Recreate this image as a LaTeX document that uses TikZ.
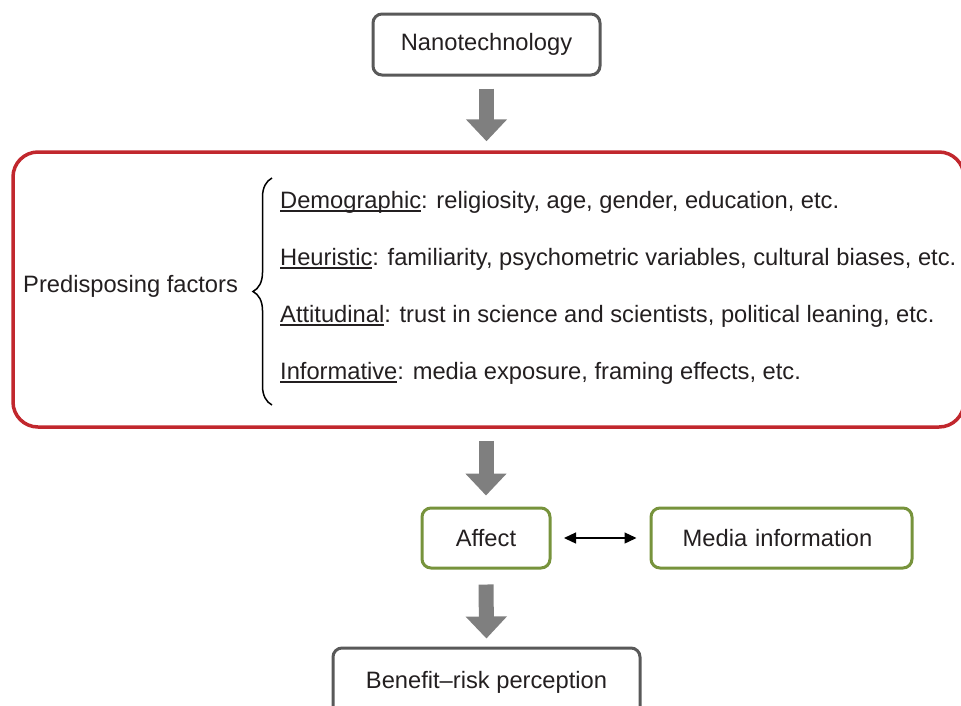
\documentclass[tikz,border=0pt]{standalone}
\usepackage{fontspec}
\setmainfont{Liberation Sans}
\usetikzlibrary{arrows.meta,decorations.pathreplacing}
\definecolor{boxgray}{HTML}{595959}
\definecolor{boxred}{HTML}{C1272D}
\definecolor{boxgreen}{HTML}{77933C}
\definecolor{arrowgray}{HTML}{7F7F7F}
\definecolor{textdark}{HTML}{231F20}
\newcommand{\ulword}[1]{\setbox0=\hbox{#1}\rlap{\rule[-3.5pt]{\wd0}{1.3pt}}\box0}
\tikzset{
	% Rounded boxes: gray for input and outcome, red for the factors, green for the middle step
	gray box/.style={rectangle,rounded corners=9pt,draw=boxgray,line width=3pt,inner sep=0pt},
	red box/.style={rectangle,rounded corners=25pt,draw=boxred,line width=3.5pt,inner sep=0pt},
	green box/.style={rectangle,rounded corners=9pt,draw=boxgreen,line width=3pt,inner sep=0pt},
	plain text/.style={anchor=base west,inner sep=0pt},
	% Two arrow styles: wide gray block arrow and thin two-way arrow
	fat arrow/.style={color=arrowgray,line width=15pt,-{Triangle[width=40pt,length=22pt]}},
	thin arrow/.style={color=black,line width=1.3pt,{Triangle[width=11pt,length=12pt]}-{Triangle[width=11pt,length=12pt]}}
}

\begin{document}
\begin{tikzpicture}[x=1pt,y=-1pt,font=\fontsize{23.7}{28}\selectfont,text=textdark]

\useasboundingbox (0,0) rectangle (961,705);
\clip (0,0) rectangle (961,705);

% set top node
\node[gray box, minimum width=227pt, minimum height=61pt] (nano) at (486.5, 44.5) {Nanotechnology};

% set factors box with its list
\node[red box, minimum width=951pt, minimum height=275pt] (factors) at (488.5, 289.5) {};
\node[plain text] (pf) at (23, 292) {Predisposing factors};
\coordinate (bt) at (272, 178);
\coordinate (bb) at (272, 405);
\draw[line width=1.5pt, decorate, decoration={brace, amplitude=19pt}] (bb) -- (bt);
\node[plain text] (dem) at (280, 208) {\ulword{Demographic}: religiosity, age, gender, education, etc.};
\node[plain text] (heu) at (280, 265) {\ulword{Heuristic}: familiarity, psychometric variables, cultural biases, etc.};
\node[plain text] (att) at (280, 322) {\ulword{Attitudinal}: trust in science and scientists, political leaning, etc.};
\node[plain text] (inf) at (280, 379) {\ulword{Informative}: media exposure, framing effects, etc.};

% set middle and bottom nodes
\node[green box, minimum width=128pt, minimum height=60pt] (affect) at (486, 538) {Affect};
\node[green box, minimum width=261pt, minimum height=60pt, text width=253pt, align=center] (media) at (781.5, 538) {Media information\hspace*{8pt}};
\node[gray box, minimum width=307pt, minimum height=68pt] (brp) at (486.5, 682) {Benefit–risk perception};

\path[fat arrow] (nano.south) edge[shorten <=12pt, shorten >=9pt] (nano.south |- factors.north)
          (affect.north |- factors.south) edge[shorten <=12pt, shorten >=11pt] (affect.north)
          (affect.south) edge[shorten <=15pt, shorten >=8pt] (brp.north);
\path[thin arrow] (affect.east) edge[shorten <=12.5pt, shorten >=13pt] (media.west);

\end{tikzpicture}
\end{document}
